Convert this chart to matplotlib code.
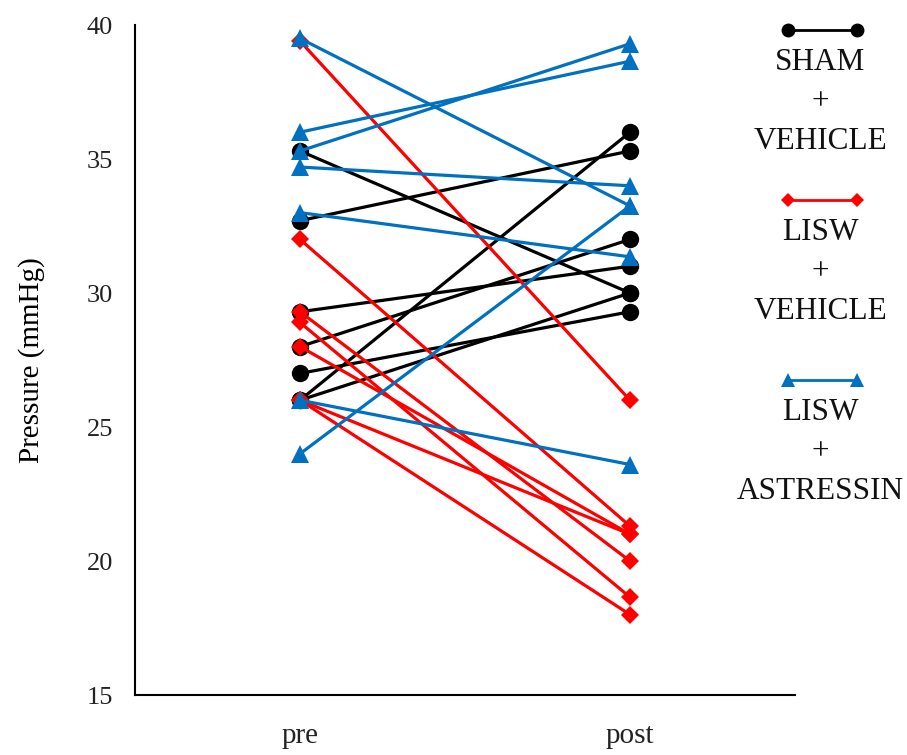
import matplotlib
matplotlib.use("Agg")
import matplotlib.pyplot as plt
from matplotlib.lines import Line2D

plt.rcParams['font.family'] = ['Liberation Serif', 'DejaVu Serif']

categories = ["pre", "post"]
yticks = [15, 20, 25, 30, 35, 40]

sham_pre = [35.3, 32.7, 29.3, 28.0, 27.0, 26.0, 26.0]
sham_post = [30.0, 35.3, 31.0, 32.0, 29.3, 36.0, 30.0]

lisw_veh_pre = [39.4, 32.0, 29.3, 28.9, 28.0, 26.0, 26.0]
lisw_veh_post = [26.0, 21.3, 20.0, 18.65, 21.0, 21.0, 18.0]

lisw_ast_pre = [39.5, 36.0, 35.3, 34.7, 33.0, 26.0, 24.0]
lisw_ast_post = [33.25, 38.65, 39.3, 34.0, 31.35, 23.6, 33.25]

labels = ["SHAM\n+\nVEHICLE", "LISW\n+\nVEHICLE", "LISW\n+\nASTRESSIN"]
colors = ["#000000", "#FF0000", "#0070C0"]
markers = ["o", "D", "^"]
msizes = [12.5, 9.5, 12.5]

W, H = 907, 755
fig = plt.figure(figsize=(W / 100, H / 100), dpi=100)
ax = fig.add_axes([135 / W, 1 - 695 / H, (795 - 135) / W, (695 - 25) / H])

groups = [(sham_pre, sham_post), (lisw_veh_pre, lisw_veh_post), (lisw_ast_pre, lisw_ast_post)]
for (pre, post), c, m, ms in zip(groups, colors, markers, msizes):
    for a, b in zip(pre, post):
        ax.plot([0, 1], [a, b], color=c, lw=2.3, marker=m, ms=ms,
                markeredgewidth=0, solid_capstyle='round')

ax.set_xlim(-0.5, 1.5)
ax.set_ylim(15, 40)
ax.set_yticks(yticks)
ax.set_yticklabels([str(t) for t in yticks], fontsize=19, color="#222222")
ax.set_xticks([0, 1])
ax.set_xticklabels(categories, fontsize=21, color="#222222")
ax.tick_params(axis='both', length=0)
ax.tick_params(axis='y', pad=16)
ax.tick_params(axis='x', pad=20)
for s in ["top", "right"]:
    ax.spines[s].set_visible(False)
for s in ["left", "bottom"]:
    ax.spines[s].set_linewidth(1.5)
ax.set_ylabel("Pressure (mmHg)", fontsize=21, labelpad=30)

# custom legend on the right
handle_y = [30, 200, 380]
for hy, lab, c, m, ms in zip(handle_y, labels, colors, markers, msizes):
    fy = 1 - hy / H
    fig.add_artist(Line2D([788 / W, 857 / W], [fy, fy], color=c, lw=2.0,
                          marker=m, ms=ms * 0.8, markeredgewidth=0,
                          transform=fig.transFigure))
    fig.text(820 / W, 1 - (hy + 18) / H, lab, ha='center', va='top',
             fontsize=22.5, linespacing=1.47, color="#111111")

fig.savefig("out.png", dpi=100)
